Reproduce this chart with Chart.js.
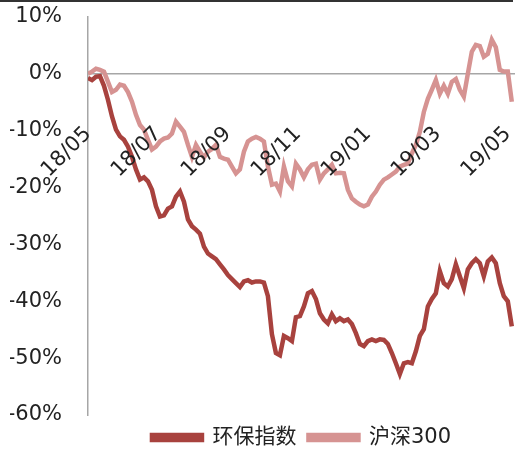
<!DOCTYPE html>
<html>
<head>
<meta charset="utf-8">
<script src="https://cdn.jsdelivr.net/npm/chart.js@4/dist/chart.umd.min.js"></script>
<style>
  body { margin: 0; background: #fff; }
  #wrap { position: relative; width: 515px; height: 450px; }
  #topline { position: absolute; left: 0; top: 0; width: 513px; height: 2px; background: #333; }
</style>
</head>
<body>
<div id="wrap">
  <canvas id="myChart" width="515" height="450"></canvas>
  <div id="topline"></div>
</div>
<script>
// tick labels on the time axis (every two months) and their positions in sample index
const monthLabels = ['18/05', '18/07', '18/09', '18/11', '19/01', '19/03', '19/05'];
const monthIndex = [0, 17.5, 35, 52.5, 70, 87.5, 105];

const seriesNames = ['环保指数', '沪深300'];

// cumulative return, % (roughly every ~3 trading days)
const envIndex = [
  -0.7, -1.1, -0.5, -0.4, -2.1, -4.6, -7.5, -9.8, -11.0, -11.6,
  -12.8, -14.6, -16.8, -18.6, -18.2, -18.9, -20.4, -23.3, -25.1, -24.9,
  -23.7, -23.3, -21.6, -20.7, -22.5, -25.6, -26.8, -27.4, -28.1, -30.4,
  -31.6, -32.1, -32.6, -33.5, -34.4, -35.4, -36.1, -36.8, -37.5, -36.5,
  -36.3, -36.7, -36.5, -36.5, -36.7, -39.1, -45.8, -49.1, -49.5, -46.1,
  -46.5, -47.0, -42.8, -42.6, -40.9, -38.6, -38.2, -39.6, -42.1, -43.2,
  -43.9, -42.3, -43.5, -43.0, -43.5, -43.2, -44.0, -45.6, -47.5, -47.9,
  -47.0, -46.7, -47.0, -46.7, -46.8, -47.5, -49.1, -50.9, -52.8, -50.9,
  -50.7, -50.9, -48.8, -46.1, -44.9, -40.9, -39.6, -38.6, -34.7, -36.8,
  -37.4, -36.1, -33.5, -35.6, -37.7, -34.4, -33.3, -32.6, -33.3, -35.6,
  -33.0, -32.3, -33.3, -36.8, -39.1, -40.0, -44.4
];

const hs300 = [
  0.0, 0.4, 0.9, 0.7, 0.4, -1.4, -3.2, -2.8, -1.9, -2.1,
  -3.2, -4.9, -7.2, -9.0, -9.8, -11.6, -13.3, -12.8, -11.9, -11.4,
  -11.2, -10.5, -8.4, -9.3, -10.2, -12.5, -14.6, -12.5, -13.7, -14.7,
  -13.7, -13.2, -12.5, -14.6, -14.9, -15.1, -16.3, -17.5, -16.8, -13.7,
  -11.9, -11.4, -11.1, -11.4, -11.9, -16.3, -19.5, -19.3, -20.7, -16.3,
  -18.9, -19.8, -15.8, -16.8, -18.2, -16.8, -16.0, -15.8, -18.6, -17.5,
  -16.8, -16.0, -17.5, -17.4, -17.5, -20.4, -21.9, -22.5, -23.0, -23.3,
  -23.0, -21.6, -20.7, -19.5, -18.6, -18.2, -17.7, -17.2, -16.3, -16.0,
  -15.8, -14.0, -12.5, -10.2, -6.7, -4.4, -2.8, -1.1, -3.5, -2.1,
  -3.5, -1.4, -0.9, -2.8, -4.0, 0.0, 3.9, 5.1, 4.9, 3.0,
  3.5, 6.0, 4.7, 0.7, 0.4, 0.4, -4.9
];

const yTicks = [10, 0, -10, -20, -30, -40, -50, -60];

function toPoints(arr) {
  return arr.map((v, i) => ({ x: i, y: v }));
}

const ctx = document.getElementById('myChart');

new Chart(ctx, {
    type: 'line',
    data: {
        datasets: [
            {
                label: seriesNames[0],
                data: toPoints(envIndex),
                borderColor: '#A8423E',
                backgroundColor: '#A8423E',
                borderWidth: 4.5,
                pointRadius: 0,
                tension: 0
            },
            {
                label: seriesNames[1],
                data: toPoints(hs300),
                borderColor: '#D69392',
                backgroundColor: '#D69392',
                borderWidth: 4.5,
                pointRadius: 0,
                tension: 0
            }]
    },
    options: {
        responsive: false,
        animation: false,
        layout: { padding: { left: 10, top: 17, right: 0, bottom: 0 } },
        plugins: {
            tooltip: { enabled: false },
            legend: {
                position: 'bottom',
                fullSize: false,
                maxHeight: 35,
                labels: {
                    boxWidth: 50,
                    boxHeight: 5,
                    padding: 12,
                    color: '#222',
                    font: { family: '"DejaVu Sans", "Noto Sans CJK SC", sans-serif', size: 21 }
                }
            }
        },
        scales: {
            x: {
                type: 'linear',
                min: 0,
                max: 106.8,
                position: { y: 0 },
                grid: { display: false, drawTicks: false },
                border: { color: '#A6A6A6', width: 1.5 },
                afterBuildTicks: function (scale) {
                    scale.ticks = monthIndex.map(v => ({ value: v }));
                },
                afterFit: function (scale) {
                    scale.paddingLeft = 0;
                    scale.paddingRight = 0;
                },
                ticks: {
                    z: 1,
                    autoSkip: false,
                    minRotation: 45,
                    maxRotation: 45,
                    padding: 48,
                    color: '#222',
                    font: { family: '"DejaVu Sans", sans-serif', size: 21 },
                    callback: function (value) {
                        const k = monthIndex.indexOf(value);
                        return k >= 0 ? monthLabels[k] : '';
                    }
                }
            },
            y: {
                min: -60,
                max: 10,
                grid: { display: false, drawTicks: false },
                border: { color: '#A6A6A6', width: 1.5 },
                afterBuildTicks: function (scale) {
                    scale.ticks = yTicks.map(v => ({ value: v }));
                },
                afterFit: function (scale) {
                    scale.width = 78;
                    scale.paddingTop = 0;
                    scale.paddingBottom = 0;
                },
                ticks: {
                    padding: 26,
                    color: '#222',
                    font: { family: '"DejaVu Sans", sans-serif', size: 21 },
                    callback: function (value) { return value + '%'; }
                }
            }
        }
    }
});
</script>
</body>
</html>
